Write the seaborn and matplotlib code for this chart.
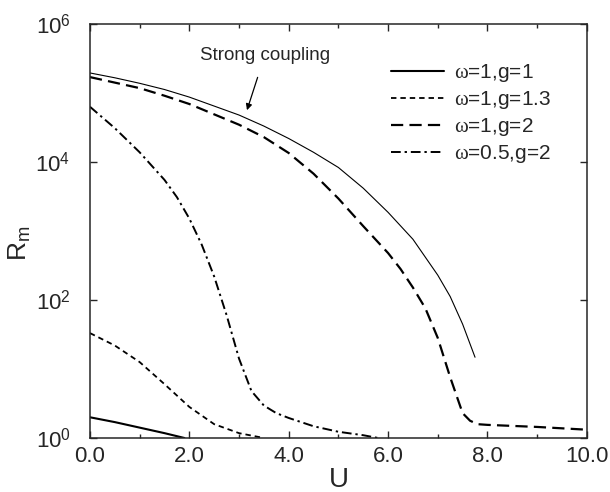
import numpy as np
import pandas as pd
import seaborn as sns
import matplotlib
matplotlib.use("Agg")
import matplotlib.pyplot as plt
from matplotlib.ticker import FixedLocator, MultipleLocator, NullLocator

# curves: U values and log10(R_m)
u_g1 = [0.0, 0.5, 1.0, 1.5, 1.9]
r_g1 = [0.30, 0.23, 0.15, 0.07, 0.0]

u_g13 = [0.0, 0.5, 1.0, 1.5, 2.0, 2.5, 3.0, 3.5]
r_g13 = [1.52, 1.34, 1.10, 0.78, 0.45, 0.20, 0.07, 0.0]

u_g2 = [0.0, 0.5, 1.0, 1.5, 2.0, 2.5, 3.0, 3.5, 4.0, 4.5, 5.0, 5.5, 6.0, 6.25,
        6.5, 6.75, 7.0, 7.25, 7.5, 7.65, 7.8, 8.0, 9.0, 10.0]
r_g2 = [5.23, 5.15, 5.07, 4.96, 4.84, 4.69, 4.54, 4.36, 4.13, 3.83, 3.47, 3.07,
        2.68, 2.45, 2.18, 1.88, 1.45, 0.88, 0.36, 0.25, 0.20, 0.19, 0.16, 0.12]

u_w05 = [0.0, 0.5, 1.0, 1.5, 1.75, 2.0, 2.25, 2.5, 2.75, 3.0, 3.25, 3.5, 3.75,
         4.0, 4.5, 5.0, 5.5, 5.8]
r_w05 = [4.80, 4.49, 4.14, 3.74, 3.49, 3.18, 2.80, 2.34, 1.78, 1.15, 0.68, 0.47,
         0.36, 0.29, 0.17, 0.09, 0.04, 0.0]

u_strong = [0.0, 0.5, 1.0, 1.5, 2.0, 2.5, 3.0, 3.5, 4.0, 4.5, 5.0, 5.5, 6.0,
            6.5, 7.0, 7.25, 7.5, 7.75]
r_strong = [5.29, 5.22, 5.14, 5.05, 4.94, 4.81, 4.68, 4.52, 4.34, 4.14, 3.92,
            3.62, 3.27, 2.88, 2.36, 2.05, 1.65, 1.17]

labels = [r"$\omega$=1,g=1", r"$\omega$=1,g=1.3", r"$\omega$=1,g=2", r"$\omega$=0.5,g=2"]
x_ticks = [0, 2, 4, 6, 8, 10]
x_ticklabels = ["0.0", "2.0", "4.0", "6.0", "8.0", "10.0"]
y_ticks = [1, 1e2, 1e4, 1e6]
y_ticklabels = ["$10^{0}$", "$10^{2}$", "$10^{4}$", "$10^{6}$"]

sns.set_style("ticks")
plt.rcParams["font.family"] = ["Liberation Sans", "DejaVu Sans"]
plt.rcParams["mathtext.fontset"] = "custom"
plt.rcParams["mathtext.rm"] = "Liberation Sans"
plt.rcParams["mathtext.it"] = "Liberation Serif"

fig = plt.figure(figsize=(6.1, 4.92), dpi=100)
ax = fig.add_axes([0.1475, 0.1098, 0.8145, 0.8415])

series = [
    (u_g1, r_g1, "-", 1.5, labels[0]),
    (u_g13, r_g13, (0, (3.0, 2.2)), 1.3, labels[1]),
    (u_g2, r_g2, (0, (5.5, 2.8)), 1.6, labels[2]),
    (u_w05, r_w05, (0, (5.0, 2.0, 1.2, 2.0)), 1.4, labels[3]),
]
for u, r, ls, lw, lab in series:
    df = pd.DataFrame({"U": u, "R": np.power(10.0, r)})
    sns.lineplot(data=df, x="U", y="R", ax=ax, color="black", linestyle=ls,
                 linewidth=lw, label=lab, sort=False, estimator=None)

df = pd.DataFrame({"U": u_strong, "R": np.power(10.0, r_strong)})
sns.lineplot(data=df, x="U", y="R", ax=ax, color="black", linewidth=0.8,
             sort=False, estimator=None, legend=False)

ax.set_yscale("log")
ax.set_xlim(0, 10)
ax.set_ylim(1, 1e6)
ax.xaxis.set_major_locator(FixedLocator(x_ticks))
ax.set_xticklabels(x_ticklabels)
ax.xaxis.set_minor_locator(MultipleLocator(1))
ax.yaxis.set_major_locator(FixedLocator(y_ticks))
ax.set_yticklabels(y_ticklabels)
ax.yaxis.set_minor_locator(NullLocator())
ax.tick_params(which="both", direction="in", top=True, right=True, width=1.0)
ax.tick_params(axis="x", which="major", length=5, labelsize=16, pad=6)
ax.tick_params(axis="x", which="minor", length=3)
ax.tick_params(axis="y", which="major", length=5, labelsize=16, pad=14)
for s in ax.spines.values():
    s.set_linewidth(1.1)

ax.set_xlabel("U", fontsize=20, labelpad=0)
ax.set_ylabel(r"$\mathrm{R_m}$", fontsize=19)
ax.yaxis.set_label_coords(-0.115, 0.47)

ax.annotate("Strong coupling", xy=(3.16, 10 ** 4.75), xytext=(3.52, 10 ** 5.55),
            fontsize=13.5, ha="center", va="center",
            arrowprops=dict(arrowstyle="-|>", color="black", lw=0.9,
                            shrinkA=8, shrinkB=0, mutation_scale=9))

ax.legend(loc="upper left", bbox_to_anchor=(0.605, 0.907), frameon=False,
          fontsize=15, handlelength=2.55, handletextpad=0.5, labelspacing=0.24,
          borderpad=0, borderaxespad=0)

fig.savefig("out.png", dpi=100)
